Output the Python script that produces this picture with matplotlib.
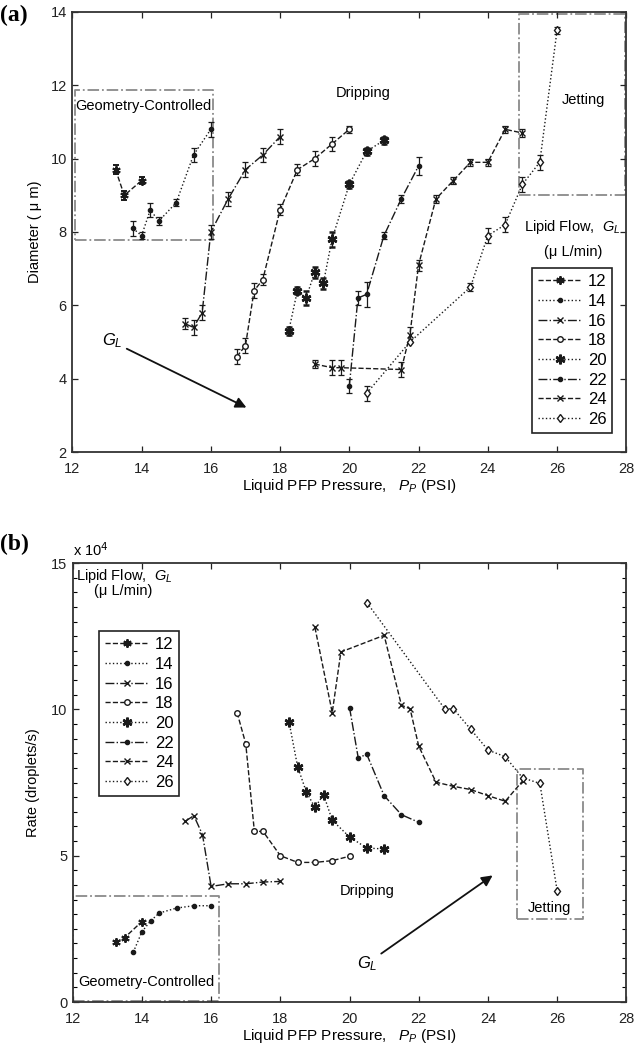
"""液滴直径与生成速率随 PFP 压力变化图 (a)(b) 两个子图"""
import matplotlib
matplotlib.use('Agg')  # 非交互式后端
import matplotlib.pyplot as plt
from matplotlib.lines import Line2D
from matplotlib.ticker import MultipleLocator

plt.rcParams['font.family'] = ['Liberation Sans', 'DejaVu Sans']
plt.rcParams['mathtext.fontset'] = 'custom'
plt.rcParams['mathtext.it'] = 'Liberation Sans:italic'
plt.rcParams['savefig.facecolor'] = 'white'

# ---- 数据 ----
flows = ['12', '14', '16', '18', '20', '22', '24', '26']

# (a) 直径 (um)
dia_x = {
    '12': [13.25, 13.5, 14.0],
    '14': [13.75, 14.0, 14.25, 14.5, 15.0, 15.5, 16.0],
    '16': [15.25, 15.5, 15.75, 16.0, 16.5, 17.0, 17.5, 18.0],
    '18': [16.75, 17.0, 17.25, 17.5, 18.0, 18.5, 19.0, 19.5, 20.0],
    '20': [18.25, 18.5, 18.75, 19.0, 19.25, 19.5, 20.0, 20.5, 21.0],
    '22': [20.0, 20.25, 20.5, 21.0, 21.5, 22.0],
    '24': [19.0, 19.5, 19.75, 21.5, 21.75, 22.0, 22.5, 23.0, 23.5, 24.0, 24.5, 25.0],
    '26': [20.5, 21.75, 23.5, 24.0, 24.5, 25.0, 25.5, 26.0],
}
dia_y = {
    '12': [9.7, 9.0, 9.4],
    '14': [8.1, 7.9, 8.6, 8.3, 8.8, 10.1, 10.8],
    '16': [5.5, 5.4, 5.8, 8.0, 8.9, 9.7, 10.1, 10.6],
    '18': [4.6, 4.9, 6.4, 6.7, 8.6, 9.7, 10.0, 10.4, 10.8],
    '20': [5.3, 6.4, 6.2, 6.9, 6.6, 7.8, 9.3, 10.2, 10.5],
    '22': [3.8, 6.2, 6.3, 7.9, 8.9, 9.8],
    '24': [4.4, 4.3, 4.3, 4.25, 5.2, 7.1, 8.9, 9.4, 9.9, 9.9, 10.8, 10.7],
    '26': [3.6, 5.0, 6.5, 7.9, 8.2, 9.3, 9.9, 13.5],
}
dia_err = {
    '12': [0.12, 0.12, 0.1],
    '14': [0.2, 0.1, 0.2, 0.1, 0.1, 0.2, 0.2],
    '16': [0.15, 0.2, 0.2, 0.2, 0.2, 0.2, 0.2, 0.2],
    '18': [0.2, 0.2, 0.2, 0.15, 0.15, 0.15, 0.2, 0.2, 0.1],
    '20': [0.1, 0.1, 0.2, 0.15, 0.15, 0.2, 0.1, 0.1, 0.1],
    '22': [0.2, 0.2, 0.35, 0.1, 0.1, 0.25],
    '24': [0.1, 0.2, 0.2, 0.2, 0.2, 0.15, 0.1, 0.1, 0.1, 0.1, 0.1, 0.1],
    '26': [0.2, 0.0, 0.1, 0.2, 0.2, 0.2, 0.2, 0.1],
}

# (b) 生成速率 (x 10^4 droplets/s)
rate_x = {
    '12': [13.25, 13.5, 14.0],
    '14': [13.75, 14.0, 14.25, 14.5, 15.0, 15.5, 16.0],
    '16': [15.25, 15.5, 15.75, 16.0, 16.5, 17.0, 17.5, 18.0],
    '18': [16.75, 17.0, 17.25, 17.5, 18.0, 18.5, 19.0, 19.5, 20.0],
    '20': [18.25, 18.5, 18.75, 19.0, 19.25, 19.5, 20.0, 20.5, 21.0],
    '22': [20.0, 20.25, 20.5, 21.0, 21.5, 22.0],
    '24': [19.0, 19.5, 19.75, 21.0, 21.5, 21.75, 22.0, 22.5, 23.0, 23.5, 24.0, 24.5, 25.0],
    '26': [20.5, 22.75, 23.0, 23.5, 24.0, 24.5, 25.0, 25.5, 26.0],
}
rate_y = {
    '12': [2.05, 2.2, 2.75],
    '14': [1.7, 2.4, 2.77, 3.04, 3.21, 3.29, 3.29],
    '16': [6.17, 6.37, 5.72, 3.95, 4.04, 4.04, 4.1, 4.12],
    '18': [9.89, 8.83, 5.83, 5.83, 5.0, 4.77, 4.77, 4.83, 4.98],
    '20': [9.58, 8.04, 7.18, 6.65, 7.09, 6.21, 5.64, 5.26, 5.23],
    '22': [10.06, 8.35, 8.46, 7.05, 6.4, 6.14],
    '24': [12.8, 9.89, 11.96, 12.53, 10.14, 10.02, 8.74, 7.51, 7.37, 7.26, 7.05, 6.86, 7.55],
    '26': [13.65, 10.02, 10.02, 9.32, 8.61, 8.38, 7.66, 7.47, 3.8],
}

# 各流量对应的线型与标记 (MATLAB 风格, '*' 用六叉星号)
asterisk = (6, 2, 0)
styles = {
    '12': dict(linestyle='--', marker=asterisk, markersize=6, markeredgewidth=1.4),
    '14': dict(linestyle=':', marker='.', markersize=6),
    '16': dict(linestyle='-.', marker='x', markersize=4.5),
    '18': dict(linestyle='--', marker='o', markersize=4, markerfacecolor='white'),
    '20': dict(linestyle=':', marker=asterisk, markersize=7, markeredgewidth=1.8),
    '22': dict(linestyle='-.', marker='.', markersize=6),
    '24': dict(linestyle='--', marker='x', markersize=4.5),
    '26': dict(linestyle=':', marker='d', markersize=4.5, markerfacecolor='white'),
}

# 区域框 [x0, x1, y0, y1] 与文字位置
dia_geo_box = [12.08, 16.07, 7.79, 11.87]
dia_jet_box = [24.9, 27.97, 9.0, 13.95]
rate_geo_box = [12.02, 16.24, 0.05, 3.63]
rate_jet_box = [24.84, 26.75, 2.83, 7.97]

box_color = '#8a8a8a'
line_color = '#1a1a1a'


def draw_box(ax, box):
    """用点划线画区域框"""
    x0, x1, y0, y1 = box
    ax.plot([x0, x1, x1, x0, x0], [y0, y0, y1, y1, y0], linestyle='-.',
            color=box_color, linewidth=1.3, zorder=1)


def style_axes(ax, yticks):
    """统一坐标轴外观"""
    ax.set_xlim(12, 28)
    ax.set_xticks(range(12, 29, 2))
    ax.set_yticks(yticks)
    ax.tick_params(direction='in', length=4, width=0.9, top=True, right=True,
                   labelsize=10.5, colors='#222222')
    ax.tick_params(axis='x', pad=7)
    ax.tick_params(axis='y', pad=4)
    ax.tick_params(which='minor', direction='in', length=3, width=0.8,
                   left=True, right=True)
    for sp in ax.spines.values():
        sp.set_linewidth(1.3)
        sp.set_color('#333333')
    ax.set_xlabel(r'Liquid PFP Pressure,   $P_P$ (PSI)', fontsize=11, labelpad=1)


def make_legend(ax, **kw):
    handles = [Line2D([], [], color=line_color, linewidth=1.0,
                      markeredgecolor=line_color, **styles[f]) for f in flows]
    leg = ax.legend(handles, flows, fontsize=12, handlelength=2.6,
                    labelspacing=0.28, handletextpad=0.4, borderpad=0.35,
                    fancybox=False, framealpha=1, edgecolor='#222222', **kw)
    leg.get_frame().set_linewidth(1.2)


fig = plt.figure(figsize=(6.35, 10.5), dpi=100)
ax1 = fig.add_axes([0.1139, 0.5695, 0.8724, 0.4191])
ax2 = fig.add_axes([0.1145, 0.0457, 0.8719, 0.4181])

# ---- (a) 直径 ----
for f in flows:
    ax1.errorbar(dia_x[f], dia_y[f], yerr=dia_err[f], color=line_color,
                 linewidth=1.0, elinewidth=0.9, capsize=2.5, capthick=0.9,
                 markeredgecolor=line_color, zorder=3, **styles[f])
draw_box(ax1, dia_geo_box)
draw_box(ax1, dia_jet_box)
ax1.text(14.05, 11.44, 'Geometry-Controlled', ha='center', va='center', fontsize=10.5)
ax1.text(20.4, 11.8, 'Dripping', ha='center', va='center', fontsize=10.5)
ax1.text(26.77, 11.6, 'Jetting', ha='center', va='center', fontsize=10.5)
ax1.text(26.45, 8.13, r'Lipid Flow,  $G_L$', ha='center', va='center', fontsize=10.5)
ax1.text(26.48, 7.45, '(\u03bc L/min)', ha='center', va='center', fontsize=10.5)
ax1.annotate('', xy=(17.1, 3.18), xytext=(13.5, 4.85),
             arrowprops=dict(arrowstyle='-|>', color='#111111', linewidth=1.3,
                             mutation_scale=16))
ax1.text(13.15, 5.05, r'$G_L$', ha='center', va='center', fontsize=12)
style_axes(ax1, range(2, 15, 2))
ax1.set_ylim(2, 14)
ax1.set_ylabel('Diameter ( \u03bc m)', fontsize=10.5, labelpad=6)
make_legend(ax1, loc='lower right', bbox_to_anchor=(0.99, 0.025))

# ---- (b) 速率 ----
for f in flows:
    ax2.plot(rate_x[f], rate_y[f], color=line_color, linewidth=1.0,
             markeredgecolor=line_color, zorder=3, **styles[f])
draw_box(ax2, rate_geo_box)
draw_box(ax2, rate_jet_box)
ax2.text(14.12, 0.67, 'Geometry-Controlled', ha='center', va='center', fontsize=10.5)
ax2.text(20.5, 3.78, 'Dripping', ha='center', va='center', fontsize=10.5)
ax2.text(25.79, 3.21, 'Jetting', ha='center', va='center', fontsize=10.5)
ax2.text(13.5, 14.55, r'Lipid Flow,  $G_L$', ha='center', va='center', fontsize=10.5)
ax2.text(13.45, 14.03, '(\u03bc L/min)', ha='center', va='center', fontsize=10.5)
ax2.annotate('', xy=(24.2, 4.38), xytext=(20.85, 1.6),
             arrowprops=dict(arrowstyle='-|>', color='#111111', linewidth=1.3,
                             mutation_scale=16))
ax2.text(20.5, 1.3, r'$G_L$', ha='center', va='center', fontsize=12)
style_axes(ax2, [0, 5, 10, 15])
ax2.yaxis.set_minor_locator(MultipleLocator(0.5))
ax2.set_ylim(0, 15)
ax2.set_ylabel('Rate (droplets/s)', fontsize=10.5, labelpad=8)
ax2.text(0.0, 1.01, r'x 10$^4$', transform=ax2.transAxes, ha='left',
         va='bottom', fontsize=10.5)
make_legend(ax2, loc='upper left', bbox_to_anchor=(0.0325, 0.863))

# 子图标号
fig.text(0.0, 0.985, '(a)', fontsize=17, fontweight='bold',
         family=['Liberation Serif', 'DejaVu Serif'], ha='left', va='center')
fig.text(0.0, 0.481, '(b)', fontsize=17, fontweight='bold',
         family=['Liberation Serif', 'DejaVu Serif'], ha='left', va='center')

plt.savefig('out.png', dpi=100)
plt.close()
